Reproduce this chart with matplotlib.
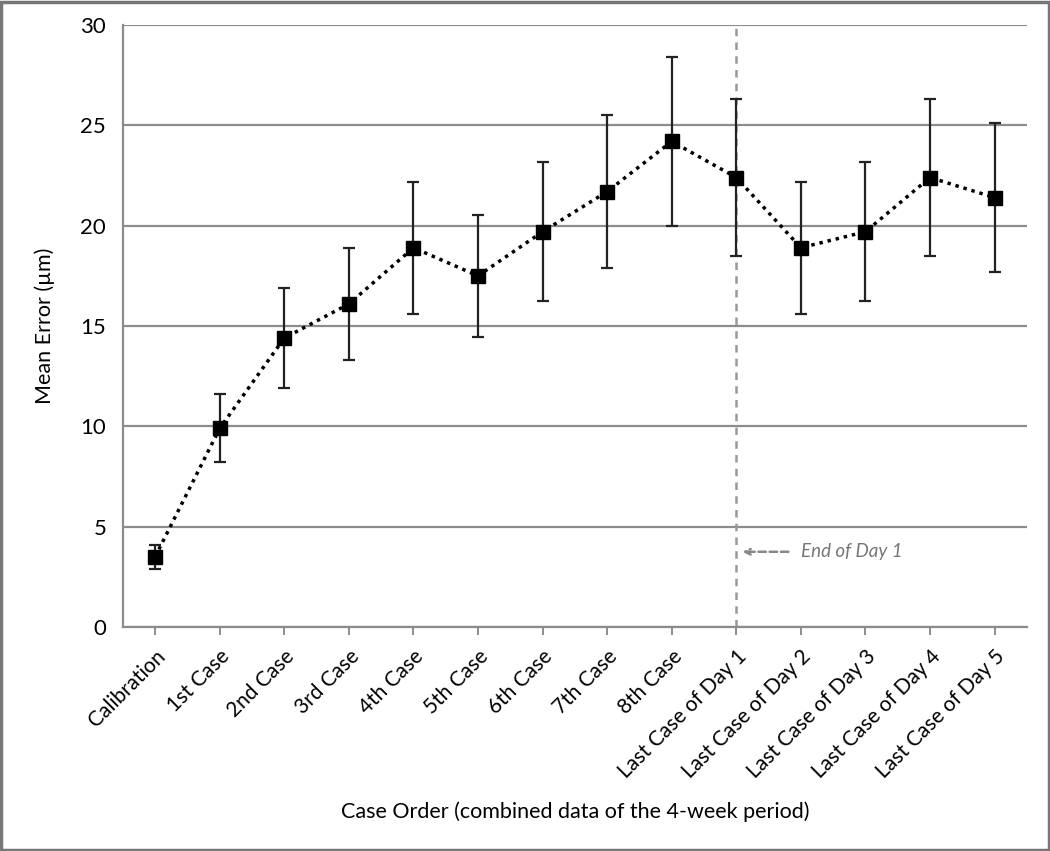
import matplotlib
matplotlib.use("Agg")
import matplotlib.pyplot as plt
from matplotlib.patches import Rectangle

categories = ["Calibration", "1st Case", "2nd Case", "3rd Case", "4th Case", "5th Case",
              "6th Case", "7th Case", "8th Case", "Last Case of Day 1", "Last Case of Day 2",
              "Last Case of Day 3", "Last Case of Day 4", "Last Case of Day 5"]
mean_error = [3.5, 9.9, 14.4, 16.1, 18.9, 17.5, 19.7, 21.7, 24.2, 22.4, 18.9, 19.7, 22.4, 21.4]
err = [0.6, 1.7, 2.5, 2.8, 3.3, 3.05, 3.45, 3.8, 4.2, 3.9, 3.3, 3.45, 3.9, 3.7]
y_ticks = [0, 5, 10, 15, 20, 25, 30]

plt.rcParams['font.family'] = ['Lato', 'DejaVu Sans']

fig = plt.figure(figsize=(10.5, 8.51), dpi=100)
ax = fig.add_axes([0.117, 0.2632, 0.861, 0.7074])

x = list(range(len(categories)))
ax.set_ylim(0, 30)
ax.set_xlim(-0.5, len(categories) - 0.5)
ax.set_yticks(y_ticks)
ax.yaxis.grid(True, color='#8c8c8c', linewidth=1.6)
ax.set_axisbelow(True)

ax.axvline(9, color='#999999', linestyle=(0, (3, 2.5)), linewidth=1.8, zorder=1)

ax.errorbar(x, mean_error, yerr=err, fmt='none', ecolor='#222222', elinewidth=1.6,
            capsize=4, capthick=1.6, zorder=3)
ax.plot(x, mean_error, linestyle=(0, (1, 1.4)), color='black', linewidth=2.5,
        marker='s', markersize=10, markerfacecolor='black', markeredgecolor='black', zorder=4)

for s in ['top', 'right']:
    ax.spines[s].set_visible(False)
for s in ['left', 'bottom']:
    ax.spines[s].set_color('#8c8c8c')
    ax.spines[s].set_linewidth(1.6)

ax.set_xticks(x)
ax.set_xticklabels(categories, rotation=45, ha='right', rotation_mode='anchor', fontsize=15)
ax.tick_params(axis='x', length=6, color='#8c8c8c', width=1.4, direction='out', pad=8)
ax.tick_params(axis='y', length=0, labelsize=16, pad=12)

ax.set_ylabel("Mean Error (µm)", fontsize=15.5, labelpad=18)
ax.set_xlabel("Case Order (combined data of the 4-week period)", fontsize=15.5, labelpad=14)

ax.annotate("", xy=(9.05, 3.75), xytext=(9.85, 3.75),
            arrowprops=dict(arrowstyle='->', color='#888888', linestyle=(0, (3, 1.5)), lw=1.8))
ax.text(10.0, 3.75, "End of Day 1", fontsize=13.5, style='italic', color='#777777', va='center')

fig.patches.append(Rectangle((0.001, 0.001), 0.998, 0.997, transform=fig.transFigure,
                             fill=False, edgecolor='#777777', linewidth=2.5))

fig.savefig("out.png", dpi=100)
